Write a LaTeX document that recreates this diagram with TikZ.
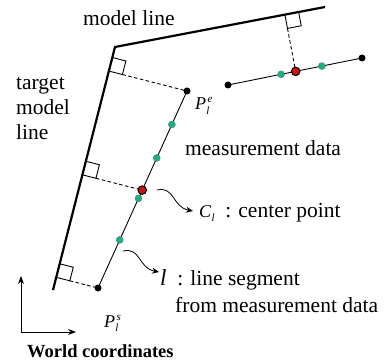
\documentclass[tikz,border=0pt]{standalone}
\usepackage{fontspec}
\setmainfont{Liberation Serif}
\usetikzlibrary{calc,arrows.meta}
\definecolor{ptgreen}{RGB}{20,180,130}
\definecolor{ptred}{RGB}{205,20,20}
\newcommand\Pvar[1]{{\fontsize{18}{18}\selectfont\itshape P\kern0.3pt\rlap{\raisebox{-4.5pt}{\fontsize{11}{11}\selectfont l}}\kern1.2pt\raisebox{7pt}{\fontsize{11}{11}\selectfont #1}}}
\newcommand\Cvar{{\fontsize{18}{18}\selectfont\itshape C\kern0.3pt\raisebox{-4.5pt}{\fontsize{11}{11}\selectfont l}}}
\begin{document}
\begin{tikzpicture}[x=1pt,y=-1pt,
  modelline/.style={line width=2.2pt, line join=miter},
  segline/.style={line width=0.9pt},
  perp/.style={dash pattern=on 3.5pt off 2.5pt, line width=0.9pt},
  rightang/.style={line width=0.9pt},
  blackpt/.style={circle, fill=black, inner sep=0pt, minimum size=7pt},
  greenpt/.style={circle, fill=ptgreen, draw=black!55, line width=0.4pt, inner sep=0pt, minimum size=7pt},
  redpt/.style={circle, fill=ptred, draw=black, line width=1pt, inner sep=0pt, minimum size=8.5pt},
  lbl/.style={inner sep=0pt, anchor=base west, align=left, font=\fontsize{21.5}{25}\selectfont},
  callout/.style={-{Stealth[length=7pt,width=6pt]}, line width=0.8pt}
]
\useasboundingbox (0,0) rectangle (387,363);

% geometry
\coordinate (A) at (53,290);
\coordinate (C) at (115,47);
\coordinate (E) at (325,7);
\coordinate (Ps) at (98,288);
\coordinate (Pe) at (187,91);
\coordinate (Q1) at (228,85);
\coordinate (Q2) at (362,58);
\coordinate (R1) at ($(Ps)!0.497!(Pe)$);
\coordinate (R2) at ($(Q1)!0.505!(Q2)$);

% model lines
\draw[modelline] (A) -- (C) -- (E);
% measurement segments
\draw[segline] (Ps) -- (Pe);
\draw[segline] (Q1) -- (Q2);

% perpendiculars with right-angle squares
\foreach \p/\a/\b/\n in {Pe/A/C/1, R1/A/C/2, Ps/A/C/3, R2/C/E/4}{
  \coordinate (F\n) at ($(\a)!(\p)!(\b)$);
}
\foreach \n/\t/\p in {1/C/Pe, 2/C/R1, 3/C/Ps, 4/E/R2}{
  \coordinate (F\n a) at ($(F\n)!14pt!(\t)$);
  \coordinate (F\n b) at ($(F\n)!14pt!(\p)$);
  \draw[rightang] (F\n) -- (F\n a) -- ($(F\n a)+(F\n b)-(F\n)$) -- (F\n b) -- cycle;
  \draw[perp] (F\n b) -- (\p);
}

% points
\node[blackpt] (nPs) at (Ps) {};
\node[blackpt] (nPe) at (Pe) {};
\node[blackpt] (nQ1) at (Q1) {};
\node[blackpt] (nQ2) at (Q2) {};
\node[greenpt] (g1) at ($(Ps)!0.244!(Pe)$) {};
\node[greenpt] (g2) at ($(Ps)!0.455!(Pe)$) {};
\node[greenpt] (g3) at ($(Ps)!0.66!(Pe)$) {};
\node[greenpt] (g4) at ($(Ps)!0.83!(Pe)$) {};
\node[greenpt] (g5) at ($(Q1)!0.396!(Q2)$) {};
\node[greenpt] (g6) at ($(Q1)!0.70!(Q2)$) {};
\node[redpt] (nR1) at (R1) {};
\node[redpt] (nR2) at (R2) {};

% labels
\node[lbl] (ml) at (83,26) {model line};
\node[lbl] (tml) at (16,140) {target\\model\\line};
\node[lbl] (pe) at (195,110) {\Pvar{e}};
\node[lbl] (md) at (185,156) {measurement data};
\node[lbl] (cl) at (199,217) {\Cvar\ \ : center point};
\node[lbl] (ll) at (160,285) {{\fontsize{23}{23}\selectfont\itshape l}\ \ : line segment};
\node[lbl] (fm) at (175,312) {from measurement data};
\node[lbl] (ps) at (104,327) {\Pvar{s}};
\node[lbl, font=\fontsize{18.5}{20}\selectfont\bfseries] (wc) at (27,357) {World coordinates};

% callout arrows
\coordinate (c1s) at (157,190);
\coordinate (c1e) at (193,211);
\draw[callout] (c1s) .. controls (175,186) and (172,207) .. (c1e);
\coordinate (c2s) at (123,251);
\coordinate (c2e) at (159,272);
\draw[callout] (c2s) .. controls (141,247) and (138,268) .. (c2e);

% world axes
\coordinate (O) at (21,332);
\coordinate (Oy) at (21,276);
\coordinate (Ox) at (76,332);
\draw[line width=1pt, -{Stealth[length=8pt,width=6pt]}] (O) -- (Oy);
\draw[line width=1pt, -{Stealth[length=8pt,width=6pt]}] (O) -- (Ox);
\end{tikzpicture}
\end{document}
